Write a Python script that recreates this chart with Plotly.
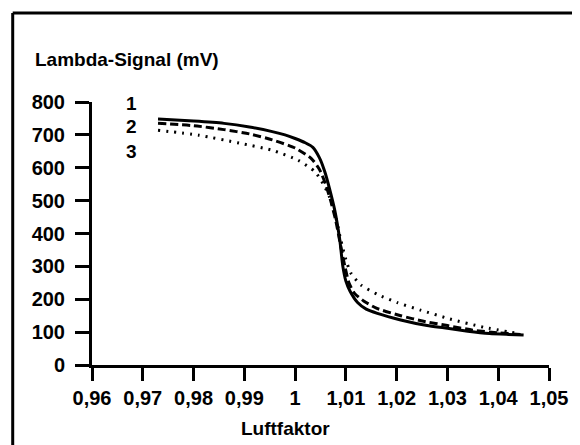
import plotly.graph_objects as go

# Curve 1 (solid)
x1 = [0.973, 0.980, 0.986, 0.991, 0.9955, 0.998, 1.000, 1.002, 1.0035, 1.0048, 1.0058,
      1.0068, 1.0078, 1.0088, 1.0094, 1.0100, 1.0108, 1.0123, 1.0140, 1.0162, 1.0208,
      1.0260, 1.0293, 1.0340, 1.0383, 1.0420, 1.045]
y1 = [748, 742, 735, 724, 710, 700, 689, 676, 662, 630, 590,
      535, 471, 380, 300, 255, 225, 190, 170, 157, 137,
      120, 113, 103, 96, 93, 91]

# Curve 2 (dashed)
x2 = [0.973, 0.980, 0.986, 0.991, 0.9955, 1.000, 1.0032, 1.0048, 1.0060, 1.0070, 1.0080,
      1.0090, 1.0098, 1.0106, 1.0117, 1.0135, 1.0160, 1.0208, 1.0253, 1.0300, 1.0350,
      1.0400, 1.045]
y2 = [735, 728, 716, 703, 685, 660, 628, 595, 550, 500, 440,
      360, 300, 250, 218, 195, 173, 150, 133, 120, 106,
      98, 92]

# Curve 3 (dotted)
x3 = [0.973, 0.981, 0.989, 0.9955, 1.0006, 1.0039, 1.0055, 1.0068, 1.0080, 1.0090,
      1.0100, 1.0110, 1.0130, 1.0162, 1.0201, 1.0247, 1.0305, 1.0371, 1.0442]
y3 = [714, 699, 675, 653, 623, 588, 552, 510, 450, 380,
      320, 279, 243, 215, 190, 167, 140, 115, 95]

curve_names = ["1", "2", "3"]
curve_label_y = [796, 726, 650]

x_tickvals = [0.96, 0.97, 0.98, 0.99, 1.00, 1.01, 1.02, 1.03, 1.04, 1.05]
x_ticktext = ["0,96", "0,97", "0,98", "0,99", "1", "1,01", "1,02", "1,03", "1,04", "1,05"]
y_tickvals = [0, 100, 200, 300, 400, 500, 600, 700, 800]

FONT = "Liberation Sans, Arial, sans-serif"

fig = go.Figure()
fig.add_trace(go.Scatter(x=x1, y=y1, mode="lines", name="1",
                         line=dict(color="black", width=3, shape="spline", smoothing=0.6)))
fig.add_trace(go.Scatter(x=x2, y=y2, mode="lines", name="2",
                         line=dict(color="black", width=3, dash="8px,4px", shape="spline", smoothing=0.6)))
fig.add_trace(go.Scatter(x=x3, y=y3, mode="lines", name="3",
                         line=dict(color="black", width=3, dash="2px,6px", shape="spline", smoothing=0.6)))

for name, yv in zip(curve_names, curve_label_y):
    fig.add_annotation(x=0.9678, y=yv, xref="x", yref="y", text=name, showarrow=False,
                       font=dict(family=FONT, size=19, color="black", weight="bold"),
                       xanchor="center", yanchor="middle")

fig.add_annotation(x=-0.130, y=1.163, xref="paper", yref="paper", text="Lambda-Signal (mV)",
                   showarrow=False, xanchor="left", yanchor="middle",
                   font=dict(family=FONT, size=19, color="black", weight="bold"))
fig.add_annotation(x=(287 - 92) / 461, y=(365 - 428) / 263, xref="paper", yref="paper",
                   text="Luftfaktor", showarrow=False, xanchor="center", yanchor="middle",
                   font=dict(family=FONT, size=19, color="black", weight="bold"))

# frame (top and left edges of the cropped box)
fig.add_shape(type="line", xref="paper", yref="paper", x0=-0.1735, x1=1.07, y0=1.3384, y1=1.3384,
              line=dict(color="black", width=3))
fig.add_shape(type="line", xref="paper", yref="paper", x0=-0.1735, x1=-0.1735, y0=1.3384, y1=-0.32,
              line=dict(color="black", width=3))

fig.update_xaxes(range=[0.96, 1.05], tickvals=x_tickvals, ticktext=x_ticktext,
                 showline=True, linecolor="black", linewidth=3, ticks="outside", ticklen=13,
                 tickwidth=2.5, tickcolor="black", showgrid=False, zeroline=False,
                 tickfont=dict(family=FONT, size=20, color="black", weight="bold"))
fig.update_yaxes(range=[0, 800], tickvals=y_tickvals,
                 showline=True, linecolor="black", linewidth=3, ticks="outside", ticklen=14,
                 tickwidth=2.5, tickcolor="black", showgrid=False, zeroline=False,
                 ticklabelstandoff=6,
                 tickfont=dict(family=FONT, size=20, color="black", weight="bold"))

# page has an 8px body margin, so the figure is sized to fill the visible window
fig.update_layout(width=572, height=437, margin=dict(l=84, r=27, t=94, b=80),
                  plot_bgcolor="white", paper_bgcolor="white", showlegend=False)

fig.write_html("out.html")
